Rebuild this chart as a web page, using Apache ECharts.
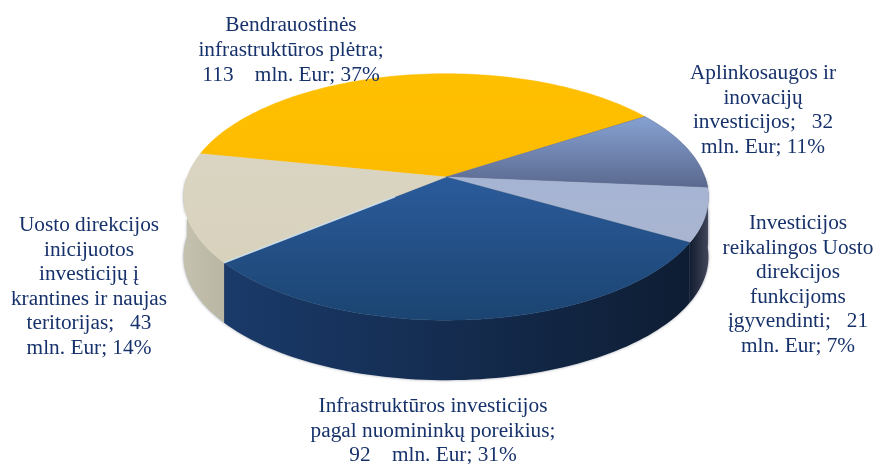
<!DOCTYPE html>
<html>
<head>
<meta charset="utf-8">
<style>html,body{margin:0;padding:0;background:#fff}#main{width:876px;height:464px}</style>
<script src="https://cdn.jsdelivr.net/npm/echarts@6/dist/echarts.min.js"></script>
</head>
<body>
<div id="main"></div>
<script>
// clockwise, starting at the yellow slice's left edge
var categories = [
    'Bendrauostinės\ninfrastruktūros plėtra;',
    'Aplinkosaugos ir\ninovacijų\ninvesticijos;',
    'Investicijos\nreikalingos Uosto\ndirekcijos\nfunkcijoms\nįgyvendinti;',
    'Infrastruktūros investicijos\npagal nuomininkų poreikius;',
    'Uosto direkcijos\ninicijuotos\ninvesticijų į\nkrantines ir naujas\nteritorijas;'
];
var values = [113, 32, 21, 92, 43];
var percents = [37, 11, 7, 31, 14];
var unit = 'mln. Eur';

// pie geometry, the disc is drawn in a small perspective
var CX = 446, CY = 177, SX = 259, SY = 120, PERSP = 0.162, DEPTH = 60;
var START = 168.4;

var topColors = [
    ['#ffc000', '#fdbb00'],
    ['#86a2d2', '#5a688e'],
    ['#a6b4d4', '#a9b5d0'],
    ['#2b5b9b', '#1b4471'],
    ['#dad5c2', '#d8d2bd']
];
var wallColors = [
    ['#b89000', '#b89000'],
    ['#4a5270', '#3c4258'],
    ['#131d31', '#43465a'],
    ['#1a3a6a', '#0e1d33'],
    ['#c4c1ae', '#b9b6a3']
];
var labelPos = [
    [291, 13.5],
    [763, 61],
    [798, 211],
    [433, 394],
    [89, 213]
];

function project(deg, r, dy) {
    var a = deg * Math.PI / 180;
    var x = r * Math.cos(a), y = r * Math.sin(a);
    var w = 1 + PERSP * y;
    return [CX + SX * x / w, CY - SY * y / w + (dy || 0)];
}

function arcPoints(from, to, dy) {
    var pts = [], n = Math.max(2, Math.ceil(Math.abs(to - from) / 1.5));
    for (var i = 0; i <= n; i++) {
        pts.push(project(from + (to - from) * i / n, 1, dy));
    }
    return pts;
}

function gradient(x0, y0, x1, y1, c) {
    return new echarts.graphic.LinearGradient(x0, y0, x1, y1, [
        { offset: 0, color: c[0] },
        { offset: 1, color: c[1] }
    ], true);
}

var total = values.reduce(function (a, b) { return a + b; }, 0);

function sliceAngles(idx) {
    var before = 0;
    for (var i = 0; i < idx; i++) before += values[i];
    return [START - before / total * 360, START - (before + values[idx]) / total * 360];
}

// front wall first, so the top faces go over it
function renderWall(params, api) {
    var ang = sliceAngles(params.dataIndex);
    // only the part of the rim with sin < 0 is seen
    var a = Math.min(ang[0], 0), b = Math.max(ang[1], -180);
    if (a <= b) return { type: 'group', children: [] };
    var top = arcPoints(a, b, 0);
    var bottom = arcPoints(b, a, DEPTH);
    var xs = top.map(function (p) { return p[0]; });
    return {
        type: 'polygon',
        shape: { points: top.concat(bottom) },
        style: {
            fill: gradient(Math.min.apply(null, xs), 0, Math.max.apply(null, xs), 0, wallColors[params.dataIndex]),
            shadowBlur: 3,
            shadowColor: 'rgba(30,40,70,0.45)'
        }
    };
}

function renderTop(params, api) {
    var idx = params.dataIndex;
    var ang = sliceAngles(idx);
    var pts = [[CX, CY]].concat(arcPoints(ang[0], ang[1], 0));
    var ys = pts.map(function (p) { return p[1]; });
    var c = topColors[idx];
    var kids = [{
        type: 'polygon',
        shape: { points: pts },
        style: {
            fill: gradient(0, Math.min.apply(null, ys), 0, Math.max.apply(null, ys), c),
            stroke: c[1],
            lineWidth: 0.5
        }
    }];
    // pale edge between the beige and dark blue slices
    if (idx === 4) {
        var from = project(ang[0], 0.25), to = project(ang[0], 1);
        kids.push({
            type: 'line',
            shape: { x1: from[0], y1: from[1], x2: to[0], y2: to[1] },
            style: { stroke: 'rgba(205,225,240,0.85)', lineWidth: 1.5 }
        });
    }
    return { type: 'group', children: kids };
}

var seriesData = values.map(function (v, i) {
    return { name: categories[i], value: v };
});

var labels = categories.map(function (name, i) {
    var text;
    if (i === 0 || i === 3) {
        text = name + '\n' + values[i] + '    ' + unit + '; ' + percents[i] + '%';
    } else {
        text = name + '   ' + values[i] + '\n' + unit + '; ' + percents[i] + '%';
    }
    return {
        type: 'text',
        x: labelPos[i][0],
        y: labelPos[i][1],
        z: 10,
        style: {
            text: text,
            textAlign: 'center',
            textVerticalAlign: 'top',
            font: '21.3px "Liberation Serif"',
            lineHeight: 24.6,
            fill: '#17326b'
        }
    };
});

var chart = echarts.init(document.getElementById('main'), null, { renderer: 'canvas' });
chart.setOption({
    animation: false,
    backgroundColor: '#fff',
    series: [
        { type: 'custom', coordinateSystem: 'none', silent: true, renderItem: renderWall, data: seriesData },
        { type: 'custom', coordinateSystem: 'none', silent: true, renderItem: renderTop, data: seriesData }
    ],
    graphic: labels
});
</script>
</body>
</html>
